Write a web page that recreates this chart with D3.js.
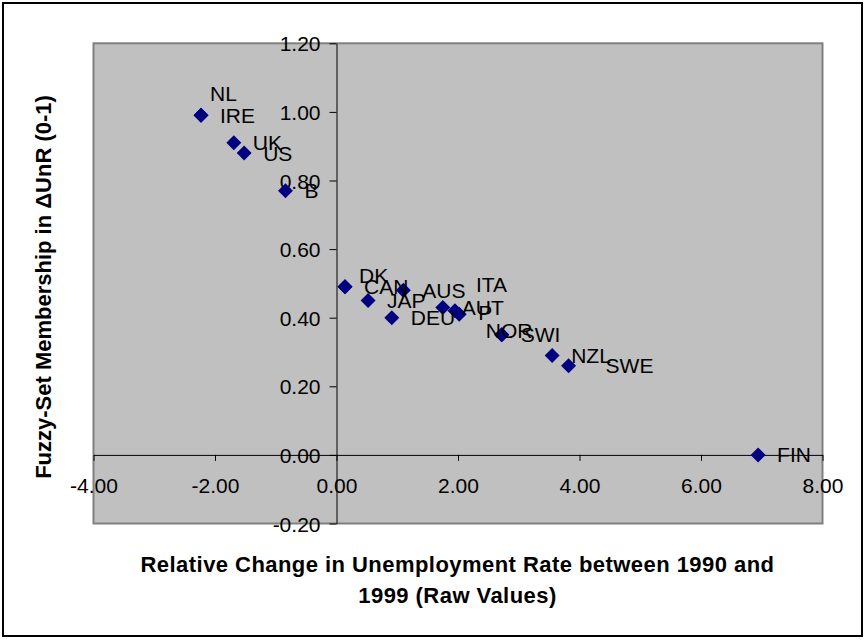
<!DOCTYPE html>
<html>
<head>
<meta charset="utf-8">
<script src="https://cdn.jsdelivr.net/npm/d3@7"></script>
<style>
  html, body { margin: 0; padding: 0; background: #fff; }
  svg { display: block; }
  text { font-family: "Liberation Sans", Arial, sans-serif; }
</style>
</head>
<body>
<svg id="chart" width="866" height="641"></svg>
<script>
// ---- Data ----
const countries = ["NL","IRE","UK","US","B","DK","CAN","JAP","AUS","DEU","AUT","ITA","P","NOR","SWI","NZL","SWE","FIN"];
const relChange = [-2.23,-2.23,-1.69,-1.52,-0.84,0.14,0.14,0.52,1.10,0.91,1.75,1.95,2.02,2.72,2.72,3.55,3.82,6.94];
const membership = [0.99,0.99,0.91,0.88,0.77,0.49,0.49,0.45,0.48,0.40,0.43,0.42,0.41,0.35,0.35,0.29,0.26,0.00];
const xTicks = [-4, -2, 0, 2, 4, 6, 8];
const xTickLabels = ["-4.00","-2.00","0.00","2.00","4.00","6.00","8.00"];
const yTicks = [-0.2, 0, 0.2, 0.4, 0.6, 0.8, 1.0, 1.2];
const yTickLabels = ["-0.20","0.00","0.20","0.40","0.60","0.80","1.00","1.20"];
const xTitleLines = ["Relative Change in Unemployment Rate between 1990 and", "1999 (Raw Values)"];
const yTitle = "Fuzzy-Set Membership in \u0394UnR (0-1)";

// ---- Layout ----
const svg = d3.select("#chart");
const plot = { left: 93.5, right: 822.5, top: 43.3, bottom: 523.5 };

const x = d3.scaleLinear().domain([-4, 8]).range([plot.left, plot.right]);
const y = d3.scaleLinear().domain([-0.2, 1.2]).range([plot.bottom, plot.top]);

// outer border
svg.append("rect")
  .attr("x", 3).attr("y", 3).attr("width", 859).attr("height", 633)
  .attr("fill", "#fff").attr("stroke", "#000").attr("stroke-width", 2);

// plot area
svg.append("rect")
  .attr("x", plot.left).attr("y", plot.top)
  .attr("width", plot.right - plot.left).attr("height", plot.bottom - plot.top)
  .attr("fill", "#c0c0c0").attr("stroke", "#808080").attr("stroke-width", 2);

// y axis (at x = 0)
const yAxis = d3.axisLeft(y)
  .tickValues(yTicks)
  .tickFormat((d, i) => yTickLabels[i])
  .tickSize(7).tickSizeOuter(0).tickPadding(9);
const gy = svg.append("g").attr("transform", `translate(${x(0)},0)`).call(yAxis);

// x axis (at y = 0)
const xAxis = d3.axisBottom(x)
  .tickValues(xTicks)
  .tickFormat((d, i) => xTickLabels[i])
  .tickSize(6).tickSizeOuter(0).tickPadding(22);
const gx = svg.append("g").attr("transform", `translate(0,${y(0)})`).call(xAxis);

[gx, gy].forEach(g => {
  g.select(".domain").attr("stroke", "#000").attr("stroke-width", 1);
  g.selectAll(".tick line").attr("stroke", "#000").attr("stroke-width", 1);
  g.selectAll(".tick text")
    .attr("fill", "#000")
    .style("font-family", '"Liberation Sans", Arial, sans-serif')
    .style("font-size", "21px");
});
gx.selectAll(".tick text").attr("y", 22.5).attr("dy", "0.72em");
gy.selectAll(".tick text").attr("dy", "0.36em");

// points
const pts = countries.map((c, i) => ({ name: c, x: relChange[i], y: membership[i] }));
const diamond = d3.symbol().type(d3.symbolSquare).size(112);
svg.append("g").selectAll("path")
  .data(pts).join("path")
  .attr("d", diamond)
  .attr("transform", d => `translate(${x(d.x)},${y(d.y)}) rotate(45)`)
  .attr("fill", "#000080");

// labels (default: to the right of the marker; a few were moved by hand in the original)
const nudge = { NL: [-10, -22], DK: [-5, -11], ITA: [2, -26], P: [0, -2], NOR: [-35, -4], SWE: [18, 0] };
svg.append("g").selectAll("text")
  .data(pts).join("text")
  .attr("x", d => x(d.x) + 19 + (nudge[d.name] ? nudge[d.name][0] : 0))
  .attr("y", d => y(d.y) + (nudge[d.name] ? nudge[d.name][1] : 0))
  .attr("dy", "0.36em")
  .attr("font-size", 21)
  .attr("fill", "#000")
  .text(d => d.name);

// x title
svg.append("g").selectAll("text")
  .data(xTitleLines).join("text")
  .attr("x", 457.5)
  .attr("y", (d, i) => 572 + i * 30.5)
  .attr("text-anchor", "middle")
  .attr("font-size", 22)
  .attr("font-weight", "bold")
  .attr("letter-spacing", "0.45px")
  .attr("fill", "#000")
  .text(d => d);

// y title
svg.append("text")
  .attr("transform", "translate(51,287) rotate(-90)")
  .attr("text-anchor", "middle")
  .attr("font-size", 22)
  .attr("font-weight", "bold")
  .attr("fill", "#000")
  .text(yTitle);
</script>
</body>
</html>
